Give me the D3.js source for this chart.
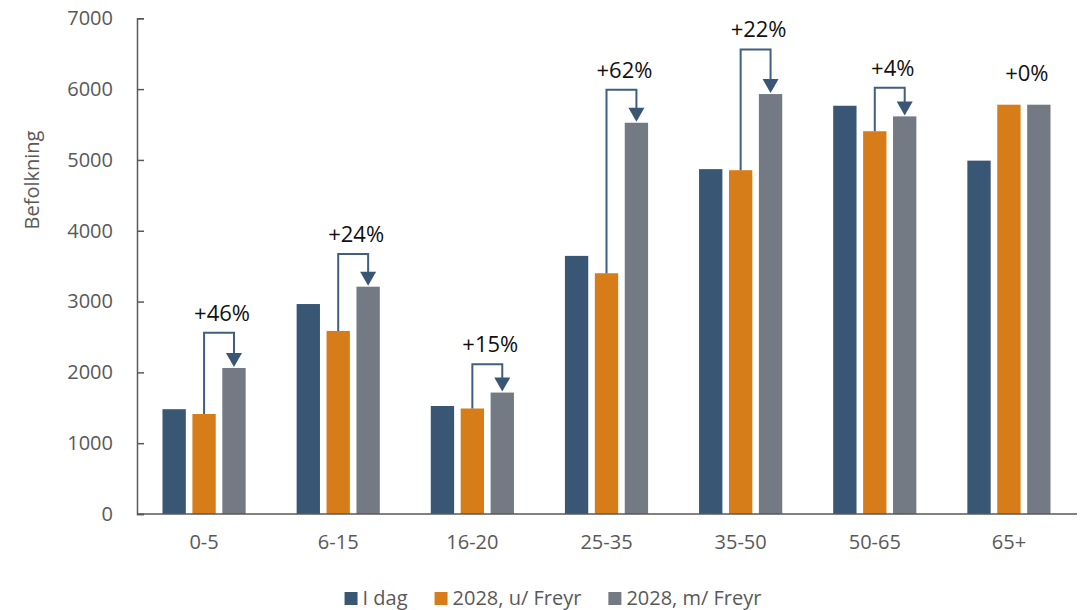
<!DOCTYPE html>
<html lang="en">
<head>
<meta charset="UTF-8">
<script src="https://cdnjs.cloudflare.com/ajax/libs/d3/7.8.5/d3.min.js"></script>
<style>
    body { margin: 0; background: #fff; }
    svg { font-family: "Open Sans", sans-serif; }
</style>
</head>
<body>
<svg id="chart" width="1086" height="610"></svg>
<script>
    let ageGroups = ["0-5", "6-15", "16-20", "25-35", "35-50", "50-65", "65+"];
    let seriesNames = ["I dag", "2028, u/ Freyr", "2028, m/ Freyr"];
    let today = [1480, 2965, 1525, 3645, 4870, 5765, 4990];
    let withoutFreyr = [1412, 2585, 1490, 3400, 4855, 5405, 5780];
    let withFreyr = [2062, 3210, 1715, 5525, 5930, 5615, 5780];
    let changeLabels = ["+46%", "+24%", "+15%", "+62%", "+22%", "+4%", "+0%"];
    let bracketLevels = [2560, 3670, 2115, 5990, 6560, 6020, 5940];
    let showArrow = [true, true, true, true, true, true, false];
    let yTicks = [0, 1000, 2000, 3000, 4000, 5000, 6000, 7000];

    let colors = ["#3a5675", "#d67d19", "#737a83"];
    let axisColor = "#595959";

    let svg = d3.select("#chart");

    let xScale = d3.scaleBand().domain(ageGroups).range([137, 1076])
        .paddingInner(0.38).paddingOuter(0.19);
    let xInner = d3.scaleBand().domain(seriesNames).range([0, xScale.bandwidth()])
        .paddingInner(0.22);
    let yScale = d3.scaleLinear().domain([0, 7000]).range([514, 18.3]);

    let rows = ageGroups.map((g, i) => ({
        group: g,
        values: [today[i], withoutFreyr[i], withFreyr[i]],
        label: changeLabels[i],
        level: bracketLevels[i],
        arrow: showArrow[i]
    }));

    // bars
    let groups = svg.selectAll("g.grp")
        .data(rows)
        .enter()
        .append("g")
        .attr("class", "grp")
        .attr("transform", d => `translate(${xScale(d.group)},0)`);

    groups.selectAll("rect")
        .data(d => d.values.map((v, j) => ({name: seriesNames[j], value: v, j: j})))
        .enter()
        .append("rect")
        .attr("x", d => xInner(d.name))
        .attr("width", xInner.bandwidth())
        .attr("y", d => yScale(d.value))
        .attr("height", d => yScale(0) - yScale(d.value))
        .attr("fill", d => colors[d.j]);

    // y axis
    let yAxis = d3.axisLeft(yScale).tickValues(yTicks).tickFormat(d3.format("d"))
        .tickSize(-7).tickPadding(24);
    let yG = svg.append("g")
        .attr("transform", "translate(137,0)")
        .call(yAxis);
    yG.select(".domain").attr("stroke", axisColor).attr("stroke-width", 1.5);
    yG.selectAll(".tick line").attr("stroke", axisColor).attr("stroke-width", 1.5);
    yG.selectAll(".tick text")
        .attr("fill", axisColor)
        .attr("font-size", 20)
        .attr("font-family", "Open Sans, sans-serif");

    // x axis
    let xAxis = d3.axisBottom(xScale).tickSize(0).tickPadding(21);
    let xG = svg.append("g")
        .attr("transform", "translate(0,514)")
        .call(xAxis);
    xG.select(".domain").attr("stroke", axisColor).attr("stroke-width", 1.5)
        .attr("d", "M137,0H1077");
    xG.selectAll(".tick text")
        .attr("fill", axisColor)
        .attr("font-size", 20)
        .attr("font-family", "Open Sans, sans-serif");

    // y axis title
    svg.append("text")
        .attr("transform", "translate(39,180) rotate(-90)")
        .attr("text-anchor", "middle")
        .attr("fill", axisColor)
        .attr("font-size", 20)
        .text("Befolkning");

    // change brackets
    let annot = svg.append("g");
    rows.forEach(d => {
        let x0 = xScale(d.group);
        let xa = x0 + xInner(seriesNames[1]) + xInner.bandwidth() / 2;
        let xb = x0 + xInner(seriesNames[2]) + xInner.bandwidth() / 2;
        let yTop = yScale(d.level);
        let yEnd = yScale(d.values[2]);
        if (d.arrow) {
            annot.append("path")
                .attr("d", `M${xa},${yScale(d.values[1])}V${yTop}H${xb}V${yEnd - 12}`)
                .attr("fill", "none")
                .attr("stroke", "#3f5f80")
                .attr("stroke-width", 2);
            annot.append("path")
                .attr("d", `M${xb - 8},${yEnd - 15}L${xb + 8},${yEnd - 15}L${xb},${yEnd - 1}Z`)
                .attr("fill", "#3a5675");
        }
        annot.append("text")
            .attr("x", (xa + xb) / 2 + 3)
            .attr("y", yTop - 12)
            .attr("text-anchor", "middle")
            .attr("font-size", 22)
            .attr("fill", "#111")
            .text(d.label);
    });

    // legend
    let legend = svg.append("g");
    let lx = 0;
    seriesNames.forEach((name, i) => {
        let item = legend.append("g").attr("transform", `translate(${lx},0)`);
        item.append("rect")
            .attr("x", 0).attr("y", -13)
            .attr("width", 13).attr("height", 13)
            .attr("fill", colors[i]);
        let t = item.append("text")
            .attr("x", 18).attr("y", 0)
            .attr("fill", axisColor)
            .attr("font-size", 20)
            .text(name);
        lx += 18 + t.node().getComputedTextLength() + 27;
    });
    let legendWidth = lx - 27;
    legend.attr("transform", `translate(${553 - legendWidth / 2},605)`);
</script>
</body>
</html>
